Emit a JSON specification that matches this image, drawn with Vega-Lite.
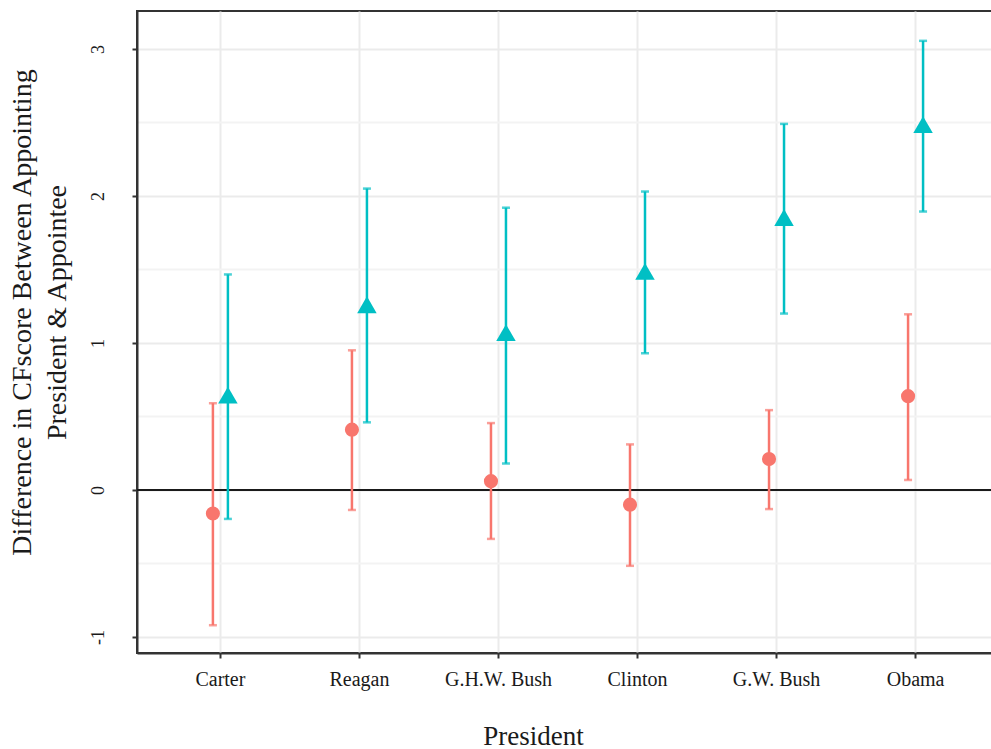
{
  "$schema": "https://vega.github.io/schema/vega-lite/v6.json",
  "autosize": {"type": "none"},
  "padding": {"left": 137, "top": 11, "right": 0, "bottom": 96},
  "width": 862,
  "height": 642,
  "background": "white",
  "data": {"values": [
    {"president": "Carter", "group": "1", "est": -0.16, "lo": -0.92, "hi": 0.59},
    {"president": "Carter", "group": "2", "est": 0.645, "lo": -0.197, "hi": 1.466},
    {"president": "Reagan", "group": "1", "est": 0.41, "lo": -0.136, "hi": 0.95},
    {"president": "Reagan", "group": "2", "est": 1.26, "lo": 0.46, "hi": 2.05},
    {"president": "G.H.W. Bush", "group": "1", "est": 0.06, "lo": -0.333, "hi": 0.455},
    {"president": "G.H.W. Bush", "group": "2", "est": 1.07, "lo": 0.18, "hi": 1.92},
    {"president": "Clinton", "group": "1", "est": -0.1, "lo": -0.516, "hi": 0.31},
    {"president": "Clinton", "group": "2", "est": 1.487, "lo": 0.93, "hi": 2.03},
    {"president": "G.W. Bush", "group": "1", "est": 0.21, "lo": -0.13, "hi": 0.543},
    {"president": "G.W. Bush", "group": "2", "est": 1.853, "lo": 1.2, "hi": 2.49},
    {"president": "Obama", "group": "1", "est": 0.638, "lo": 0.068, "hi": 1.195},
    {"president": "Obama", "group": "2", "est": 2.485, "lo": 1.894, "hi": 3.055}
  ]},
  "encoding": {
    "x": {
      "field": "president", "type": "nominal", "sort": null,
      "scale": {"paddingInner": 0, "paddingOuter": 0.1},
      "axis": {
        "title": "President", "titleX": 396, "titleY": 70, "titleFontSize": 27,
        "labelAngle": 0, "labelFontSize": 20, "labelPadding": 11,
        "bandPosition": 0.5, "grid": true
      }
    },
    "xOffset": {
      "field": "group", "type": "nominal",
      "scale": {"range": [54.5, 84.5], "paddingInner": 0, "paddingOuter": 0}
    },
    "color": {
      "field": "group", "type": "nominal", "legend": null,
      "scale": {"domain": ["1", "2"], "range": ["#F8766D", "#00BFC4"]}
    }
  },
  "layer": [
    {
      "data": {"values": [{"zero": 0}]},
      "mark": {"type": "rule", "color": "#1a1a1a", "strokeWidth": 2},
      "encoding": {
        "y": {"field": "zero", "type": "quantitative"},
        "x": null, "xOffset": null, "color": null
      }
    },
    {
      "mark": {"type": "rule", "strokeWidth": 2.5},
      "encoding": {
        "y": {
          "field": "lo", "type": "quantitative",
          "scale": {"domain": [-1.109, 3.258], "nice": false, "zero": false},
          "axis": {
            "title": ["Difference in CFscore Between Appointing", "President & Appointee"],
            "titleFontSize": 28, "titleLineHeight": 35, "titlePadding": 18, "titleY": 301,
            "values": [-1, -0.5, 0, 0.5, 1, 1.5, 2, 2.5, 3],
            "labelExpr": "datum.value % 1 === 0 ? toString(datum.value) : ''",
            "labelAngle": 270, "labelAlign": "center", "labelBaseline": "bottom",
            "labelFontSize": 18, "labelPadding": 25,
            "tickOpacity": {"condition": {"test": "datum.value % 1 !== 0", "value": 0}, "value": 1},
            "gridColor": {"condition": {"test": "datum.value % 1 !== 0", "value": "#F3F3F3"}, "value": "#EBEBEB"}
          }
        },
        "y2": {"field": "hi"}
      }
    },
    {
      "mark": {"type": "tick", "orient": "horizontal", "size": 8, "thickness": 2.5},
      "encoding": {"y": {"field": "lo", "type": "quantitative"}}
    },
    {
      "mark": {"type": "tick", "orient": "horizontal", "size": 8, "thickness": 2.5},
      "encoding": {"y": {"field": "hi", "type": "quantitative"}}
    },
    {
      "mark": {"type": "point", "filled": true, "opacity": 1},
      "encoding": {
        "y": {"field": "est", "type": "quantitative"},
        "shape": {
          "field": "group", "type": "nominal", "legend": null,
          "scale": {"domain": ["1", "2"], "range": ["circle", "triangle-up"]}
        },
        "size": {
          "field": "group", "type": "nominal", "legend": null,
          "scale": {"domain": ["1", "2"], "range": [200, 380]}
        }
      }
    }
  ],
  "config": {
    "font": "Liberation Serif",
    "view": {"stroke": "#333333", "strokeWidth": 2},
    "axis": {
      "domainColor": "#333333", "domainWidth": 2,
      "tickColor": "#333333", "tickWidth": 2, "tickSize": 5,
      "gridColor": "#EBEBEB", "gridWidth": 2,
      "labelColor": "#1a1a1a", "titleColor": "#1a1a1a",
      "labelFont": "Liberation Serif", "titleFont": "Liberation Serif",
      "titleFontWeight": "normal"
    }
  }
}
